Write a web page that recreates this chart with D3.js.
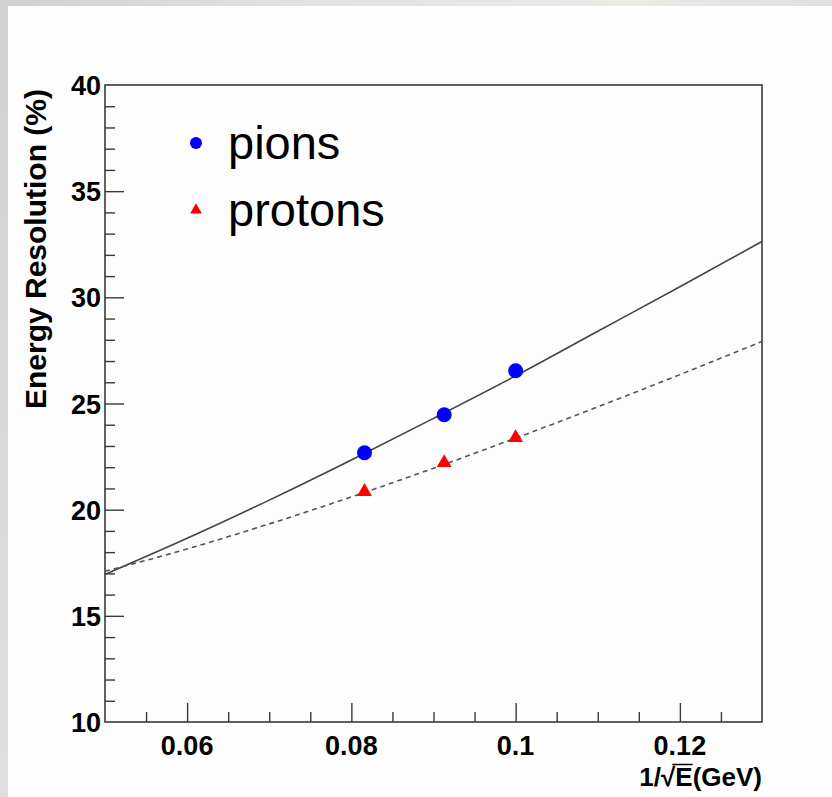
<!DOCTYPE html>
<html>
  <head>
    <meta charset="utf-8">
    <script src="https://d3js.org/d3.v7.min.js"></script>
    <style>
      body { margin: 0; background: #fff; overflow: hidden; }
      text { font-family: 'Liberation Sans', Arial, sans-serif; fill: #000; }
      .tick-label { font-size: 27px; font-weight: bold; }
      .axis-title { font-size: 26px; font-weight: bold; }
      .y-title { font-size: 30px; font-weight: bold; }
      .legend-label { font-size: 47px; }
    </style>
  </head>
  <body>
    <svg width="832" height="797"></svg>
    <script>
      // beam energies 150, 120, 100 GeV -> 1/sqrt(E)
      const invSqrtE = [0.0816, 0.0913, 0.1];
      const pions = [22.68, 24.47, 26.54];
      const protons = [20.85, 22.21, 23.39];

      // fit curves
      const fitX = [0.05, 0.06, 0.07, 0.08, 0.09, 0.10, 0.11, 0.12, 0.13];
      const pionFit = [16.95, 18.65, 20.45, 22.34, 24.3, 26.3, 28.4, 30.5, 32.63];
      const protonFit = [17.1, 18.15, 19.33, 20.6, 21.95, 23.37, 24.84, 26.36, 27.92];

      const xTicks = [0.06, 0.08, 0.1, 0.12];
      const yTicks = [10, 15, 20, 25, 30, 35, 40];
      const legendNames = ['pions', 'protons'];

      const svg = d3.select('svg');
      const margin = {left: 105, right: 70, top: 85, bottom: 75};
      const width = 832, height = 797;
      const innerWidth = width - margin.left - margin.right;
      const innerHeight = height - margin.top - margin.bottom;

      // slide background peeking at top and left
      const defs = svg.append('defs');
      const grad = defs.append('linearGradient').attr('id', 'bg')
        .attr('x1', 0).attr('y1', 0).attr('x2', 1).attr('y2', 0.3);
      grad.append('stop').attr('offset', 0).attr('stop-color', '#cfd1d3');
      grad.append('stop').attr('offset', 0.4).attr('stop-color', '#e4e4e4');
      grad.append('stop').attr('offset', 0.7).attr('stop-color', '#ecebe6');
      grad.append('stop').attr('offset', 1).attr('stop-color', '#dadada');
      svg.append('rect').attr('width', width).attr('height', height).attr('fill', 'url(#bg)');
      svg.append('rect').attr('x', 8).attr('y', 6).attr('width', width - 8).attr('height', height - 6)
        .attr('fill', '#fdfdfd');

      const g = svg.append('g')
        .attr('transform', `translate(${margin.left}, ${margin.top})`);

      const xScale = d3.scaleLinear().domain([0.05, 0.13]).range([0, innerWidth]);
      const yScale = d3.scaleLinear().domain([10, 40]).range([innerHeight, 0]);

      const axisColor = '#3a3a3a';

      // frame
      g.append('rect')
        .attr('width', innerWidth).attr('height', innerHeight)
        .attr('fill', 'none').attr('stroke', axisColor).attr('stroke-width', 1.6);

      // x axis: ticks inward, labels placed from the scale
      const xAxisG = g.append('g').attr('transform', `translate(0, ${innerHeight})`);
      xAxisG.call(d3.axisBottom(xScale).tickValues(d3.range(0.055, 0.1299, 0.005)).tickSize(0).tickFormat(''));
      xAxisG.selectAll('.tick line, .tick text').remove();
      xAxisG.select('.domain').remove();
      xAxisG.selectAll('.tick').append('line')
        .attr('y2', d => xTicks.some(t => Math.abs(t - d) < 1e-6) ? -19 : -10)
        .attr('stroke', axisColor).attr('stroke-width', 1.4);
      xTicks.forEach(t => {
        xAxisG.append('text')
          .attr('class', 'tick-label')
          .attr('x', xScale(t)).attr('y', 33)
          .attr('text-anchor', 'middle')
          .text(d3.format('~g')(t));
      });

      // y axis
      const yAxisG = g.append('g');
      yAxisG.call(d3.axisLeft(yScale).tickValues(d3.range(11, 40, 1)).tickSize(0).tickFormat(''));
      yAxisG.selectAll('.tick line, .tick text').remove();
      yAxisG.select('.domain').remove();
      yAxisG.selectAll('.tick').append('line')
        .attr('x2', d => d % 5 === 0 ? 19 : 10)
        .attr('stroke', axisColor).attr('stroke-width', 1.4);
      yTicks.forEach(t => {
        yAxisG.append('text')
          .attr('class', 'tick-label')
          .attr('x', -4).attr('y', yScale(t) + 10)
          .attr('text-anchor', 'end')
          .text(t);
      });

      // axis titles
      const xt = g.append('text')
        .attr('class', 'axis-title')
        .attr('x', innerWidth).attr('y', innerHeight + 64)
        .attr('text-anchor', 'end')
        .text('1/\u221AE(GeV)');
      // radical bar over the E
      const xtNode = xt.node();
      const barStart = xtNode.getStartPositionOfChar(2).x + xtNode.getSubStringLength(2, 1) - 3;
      const barEnd = xtNode.getStartPositionOfChar(3).x + xtNode.getSubStringLength(3, 1);
      g.append('line')
        .attr('x1', barStart).attr('x2', barEnd)
        .attr('y1', innerHeight + 42.5).attr('y2', innerHeight + 42.5)
        .attr('stroke', '#000').attr('stroke-width', 1.5);

      g.append('text')
        .attr('class', 'y-title')
        .attr('transform', 'rotate(-90)')
        .attr('x', -4).attr('y', -59)
        .attr('text-anchor', 'end')
        .text('Energy Resolution (%)');

      // fit curves
      const fitLine = vals => d3.line()
        .x((d, i) => xScale(fitX[i]))
        .y(d => yScale(d))
        .curve(d3.curveMonotoneX)(vals);

      g.append('path').attr('d', fitLine(pionFit))
        .attr('fill', 'none').attr('stroke', '#444').attr('stroke-width', 1.6);
      g.append('path').attr('d', fitLine(protonFit))
        .attr('fill', 'none').attr('stroke', '#555').attr('stroke-width', 1.6)
        .attr('stroke-dasharray', '5,4');

      // markers
      const tri = d3.symbol().type(d3.symbolTriangle).size(95);
      g.selectAll('.pion').data(pions).enter().append('circle')
        .attr('cx', (d, i) => xScale(invSqrtE[i]))
        .attr('cy', d => yScale(d))
        .attr('r', 7.5).attr('fill', '#0000ff');
      g.selectAll('.proton').data(protons).enter().append('path')
        .attr('d', tri)
        .attr('transform', (d, i) => `translate(${xScale(invSqrtE[i])}, ${yScale(d)})`)
        .attr('fill', '#ff0000');

      // legend
      const legend = svg.append('g').attr('transform', 'translate(196, 143)');
      legend.append('circle').attr('r', 6).attr('fill', '#0000ff');
      legend.append('path').attr('d', d3.symbol().type(d3.symbolTriangle).size(60)())
        .attr('transform', 'translate(0, 67)').attr('fill', '#ff0000');
      legendNames.forEach((name, i) => {
        legend.append('text')
          .attr('class', 'legend-label')
          .attr('x', 32).attr('y', 16 + i * 67)
          .text(name);
      });
    </script>
  </body>
</html>
